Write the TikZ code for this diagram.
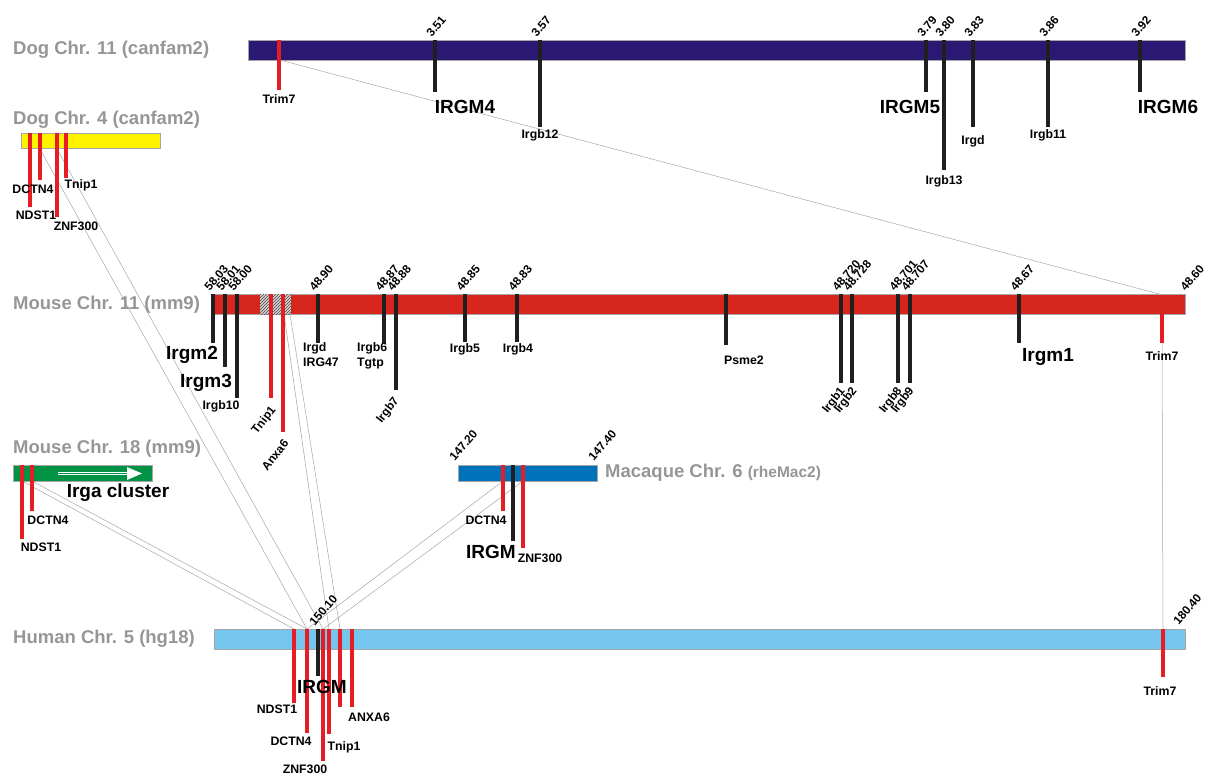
\documentclass[tikz,border=0pt]{standalone}
\usepackage{fontspec}
\setmainfont{Liberation Sans}
\usepackage{xcolor}
\usetikzlibrary{positioning,patterns,calc}

\definecolor{chrgray}{RGB}{150,150,150}
\definecolor{dognavy}{RGB}{43,24,115}
\definecolor{dogyellow}{RGB}{255,242,0}
\definecolor{mousered}{RGB}{215,38,30}
\definecolor{irgagreen}{RGB}{0,146,69}
\definecolor{macblue}{RGB}{0,114,188}
\definecolor{humanblue}{RGB}{116,198,239}
\definecolor{genered}{RGB}{228,30,36}

\begin{document}
\begin{tikzpicture}[x=1pt, y=-1pt,
    chrname/.style={text=chrgray, font=\bfseries\fontsize{18.5}{20}\selectfont, anchor=west, inner sep=0pt},
    bar/.style={draw=black!35, line width=0.5pt},
    blackgene/.style={draw=black!88, line width=3.3pt},
    redgene/.style={draw=genered, line width=3.3pt},
    mb/.style={font=\bfseries\fontsize{11.8}{12}\selectfont, rotate=50, anchor=south west, inner sep=0pt},
    lbl/.style={font=\bfseries\fontsize{12.3}{15}\selectfont, inner sep=0pt},
    biglbl/.style={font=\bfseries\fontsize{19}{21}\selectfont, inner sep=0pt},
    rlbl/.style={font=\bfseries\fontsize{11.8}{13}\selectfont, inner sep=0pt, rotate=52, anchor=east},
    link/.style={draw=black!35, line width=0.5pt}]

    \useasboundingbox (0,0) rectangle (1213,774);

    % named ends of the links
    \coordinate (d11trim7) at (280,60);
    \coordinate (m11trim7top) at (1159,294);
    \coordinate (m11trim7bot) at (1162,343);
    \coordinate (d4dctn) at (40,149);
    \coordinate (d4znf) at (57,149);
    \coordinate (m11tnip) at (284,314);
    \coordinate (m11anxa) at (290,314);
    \coordinate (m18ndst) at (22,481);
    \coordinate (m18dctn) at (32,481);
    \coordinate (macdctn) at (503,481);
    \coordinate (macznf) at (523,481);
    \coordinate (h5ndst) at (294,629);
    \coordinate (h5dctn) at (307,629);
    \coordinate (h5znf) at (323,629);
    \coordinate (h5tnip) at (329,629);
    \coordinate (h5anxa) at (340,629);
    \coordinate (h5trim7) at (1163,629);

    % grey links between the chromosomes
    \draw[link] (d11trim7) -- (m11trim7top);
    \draw[link] (m11trim7bot) -- (h5trim7);
    \draw[link] (d4dctn) -- (h5dctn);
    \draw[link] (d4znf) -- (h5znf);
    \draw[link] (m11tnip) -- (h5tnip);
    \draw[link] (m11anxa) -- (h5anxa);
    \draw[link] (m18ndst) -- (h5ndst);
    \draw[link] (m18dctn) -- (h5dctn);
    \draw[link] (macdctn) -- (h5dctn);
    \draw[link] (macznf) -- (h5znf);

    % Dog Chr. 11
    \node[chrname] (dog11) at (13,50) {Dog Chr. 11 (canfam2)};
    \draw[bar, fill=dognavy] (248,40) rectangle (1185,60);
    \draw[redgene] (279,40) -- (279,90);
    \node[lbl] (d11trim7l) at (279,99) {Trim7};
    \foreach \x/\y/\m in {435/92/3.51, 540/127/3.57, 926/92/3.79, 944/170/3.80,
                          973/127/3.83, 1048/127/3.86, 1140/92/3.92} {
        \draw[blackgene] (\x,40) -- (\x,\y);
        \node[mb] (d11n\x) at (\x-3,38) {\m};
    }
    \node[biglbl] (irgm4) at (465,107) {IRGM4};
    \node[lbl] (irgb12) at (540,135) {Irgb12};
    \node[biglbl] (irgm5) at (910,107) {IRGM5};
    \node[lbl] (irgb13) at (944,181) {Irgb13};
    \node[lbl] (d11irgd) at (973,141) {Irgd};
    \node[lbl] (irgb11) at (1048,135) {Irgb11};
    \node[biglbl] (irgm6) at (1168,107) {IRGM6};

    % Dog Chr. 4
    \node[chrname] (dog4) at (13,120) {Dog Chr. 4 (canfam2)};
    \draw[bar, fill=dogyellow] (21,133) rectangle (160,148);
    \foreach \x/\y in {30/207, 40/180, 57/217, 66/178}
        \draw[redgene] (\x,133) -- (\x,\y);
    \node[lbl] (d4dctnl) at (33,189) {DCTN4};
    \node[lbl] (d4ndstl) at (36,215) {NDST1};
    \node[lbl] (d4znfl) at (76,226) {ZNF300};
    \node[lbl] (d4tnipl) at (81,185) {Tnip1};

    % Mouse Chr. 11
    \node[chrname] (mouse11) at (13,305) {Mouse Chr. 11 (mm9)};
    \draw[bar, fill=mousered] (213,294) rectangle (1185,314);
    \fill[gray!35] (260,294) rectangle (291,314);
    \fill[pattern=north east lines, pattern color=black!70] (260,294) rectangle (291,314);
    \foreach \x/\y/\m in {213/343/58.03, 225/367/58.01, 237/398/58.00, 318/343/48.90,
                          384/343/48.87, 396/390/48.88, 465/342/48.85, 517/342/48.83,
                          841/383/48.720, 852/383/48.728, 898/383/48.701, 910/383/48.707,
                          1019/343/48.67} {
        \draw[blackgene] (\x,294) -- (\x,\y);
        \node[mb] (m11n\x) at (\x-3,292) {\m};
    }
    \draw[blackgene] (726,294) -- (726,345);
    \draw[redgene] (271,294) -- (271,398);
    \draw[redgene] (283,294) -- (283,432);
    \draw[redgene] (1162,314) -- (1162,343);
    \node[mb] (m11end) at (1186,292) {48.60};
    \node[biglbl] (irgm2) at (192,355) {Irgm2};
    \node[biglbl] (irgm3) at (206,383) {Irgm3};
    \node[lbl] (irgb10) at (221,406) {Irgb10};
    \node[lbl, align=left, anchor=north west] (irg47) at (303,342) {Irgd\\IRG47};
    \node[lbl, align=left, anchor=north west] (tgtp) at (357,342) {Irgb6\\Tgtp};
    \node[lbl] (irgb5) at (465,349) {Irgb5};
    \node[lbl] (irgb4) at (518,349) {Irgb4};
    \node[lbl] (psme2) at (744,360) {Psme2};
    \node[biglbl] (irgm1) at (1048,357) {Irgm1};
    \node[lbl] (m11trim7l) at (1162,356) {Trim7};
    \node[rlbl] (m11tnipl) at (274,408) {Tnip1};
    \node[rlbl] (m11anxal) at (286,441) {Anxa6};
    \node[rlbl] (irgb7) at (397,399) {Irgb7};
    \node[rlbl] (irgb1) at (843,389) {Irgb1};
    \node[rlbl] (irgb2) at (855,389) {Irgb2};
    \node[rlbl] (irgb8) at (900,389) {Irgb8};
    \node[rlbl] (irgb9) at (912,389) {Irgb9};

    % Mouse Chr. 18
    \node[chrname] (mouse18) at (13,449) {Mouse Chr. 18 (mm9)};
    \draw[bar, fill=irgagreen] (13,465) rectangle (152,481);
    \draw[white, double=irgagreen, double distance=1pt, line width=1.4pt] (58,473.5) -- (128,473.5);
    \fill[white] (127,467) -- (142,473.5) -- (127,480) -- cycle;
    \draw[redgene] (22,465) -- (22,539);
    \draw[redgene] (32,465) -- (32,511);
    \node[lbl] (m18dctnl) at (48,520) {DCTN4};
    \node[lbl] (m18ndstl) at (41,547) {NDST1};
    \node[biglbl] (irga) at (118,493) {Irga cluster};

    % Macaque Chr. 6
    \draw[bar, fill=macblue] (458,465) rectangle (597,481);
    \node[chrname] (macaque6) at (605,473) {Macaque Chr. 6 {\fontsize{15.5}{16}\selectfont(rheMac2)}};
    \node[mb] (mac1) at (455,462) {147.20};
    \node[mb] (mac2) at (594,462) {147.40};
    \draw[redgene] (503,465) -- (503,511);
    \draw[blackgene] (513,465) -- (513,541);
    \draw[redgene] (523,465) -- (523,548);
    \node[lbl] (macdctnl) at (486,520) {DCTN4};
    \node[biglbl] (macirgm) at (491,552) {IRGM};
    \node[lbl] (macznfl) at (540,558) {ZNF300};

    % Human Chr. 5
    \node[chrname] (human5) at (13,639) {Human Chr. 5 (hg18)};
    \draw[bar, fill=humanblue] (214,629) rectangle (1185,649);
    \foreach \x/\y in {294/703, 307/733, 323/761, 329/734, 340/707, 352/707, 1163/677}
        \draw[redgene] (\x,629) -- (\x,\y);
    \draw[blackgene] (318,629) -- (318,676);
    \node[mb] (h5n) at (315,627) {150.10};
    \node[mb] (h5end) at (1179,626) {180.40};
    \node[biglbl] (h5irgm) at (322,687) {IRGM};
    \node[lbl] (h5ndstl) at (277,709) {NDST1};
    \node[lbl] (h5dctnl) at (291,741) {DCTN4};
    \node[lbl] (h5znfl) at (305,769) {ZNF300};
    \node[lbl] (h5tnipl) at (344,747) {Tnip1};
    \node[lbl] (h5anxal) at (369,717) {ANXA6};
    \node[lbl] (h5trim7l) at (1160,691) {Trim7};
\end{tikzpicture}
\end{document}
